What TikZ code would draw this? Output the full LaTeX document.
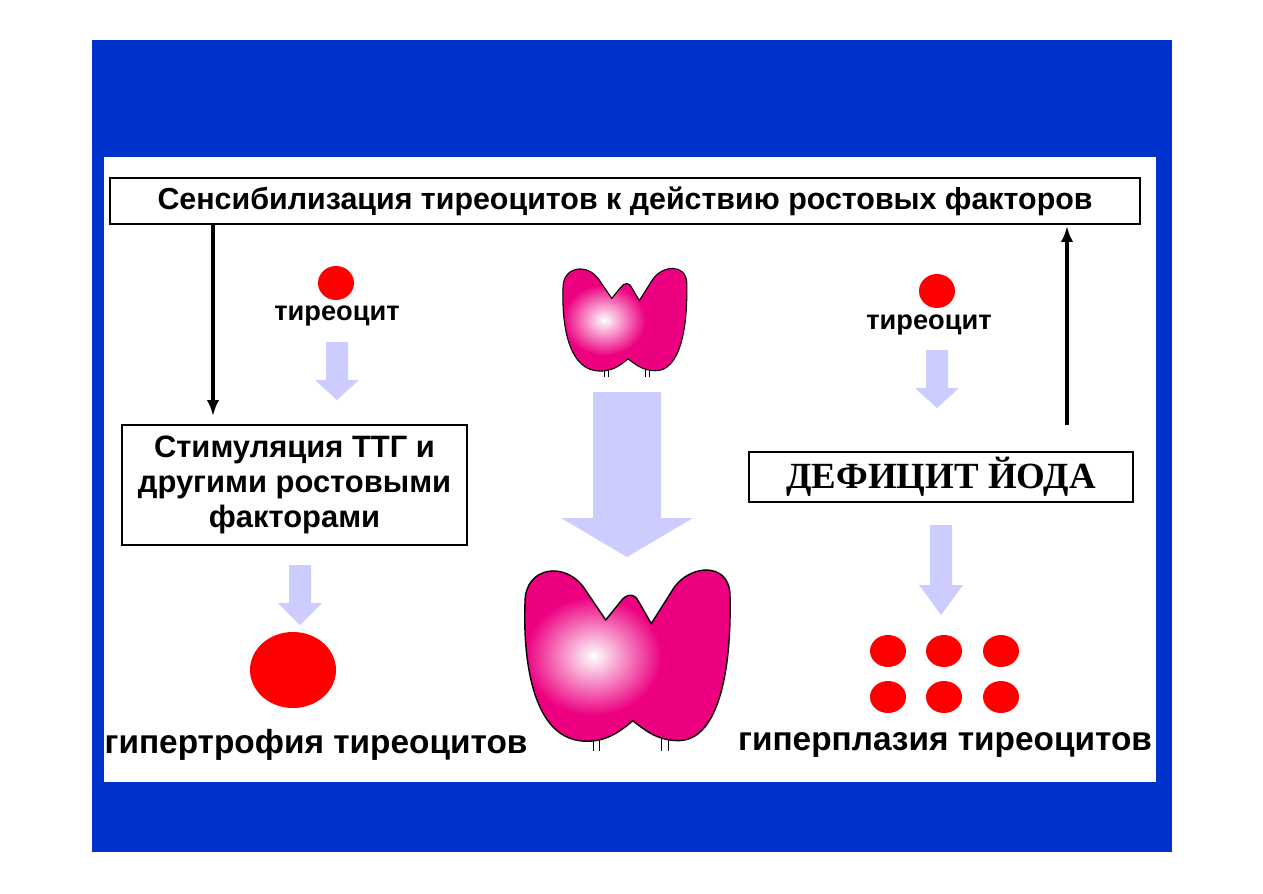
\documentclass[tikz,border=0pt]{standalone}
\usepackage{fontspec}
\setmainfont{Liberation Sans}
\newfontfamily\serifbf{Liberation Serif}
\usepackage{tikz}
\usetikzlibrary{positioning,arrows.meta}
\definecolor{slideblue}{RGB}{0,51,204}
\definecolor{lilac}{RGB}{204,204,255}
\definecolor{gland}{RGB}{236,0,128}
\definecolor{cellred}{RGB}{255,0,0}

% fat light arrow: x, top y, tip y, half shaft, half head, head length
\newcommand{\fatarrow}[6]{%
  \fill[lilac] (#1-#4,#2) -- (#1+#4,#2) -- (#1+#4,#3-#6) -- (#1+#5,#3-#6)
    -- (#1,#3) -- (#1-#5,#3-#6) -- (#1-#4,#3-#6) -- cycle;}

% outline of one gland, unit square, y down
\newcommand{\glandpath}{(0.39,0.3) -- (0.46,0.2)
  .. controls (0.49,0.15) and (0.53,0.15) .. (0.55,0.2) -- (0.61,0.32)
  -- (0.72,0.12) .. controls (0.8,-0.01) and (0.98,-0.02) .. (0.99,0.15)
  .. controls (1.0,0.6) and (0.93,0.97) .. (0.74,0.97)
  .. controls (0.63,0.97) and (0.57,0.9) .. (0.52,0.86)
  .. controls (0.46,0.92) and (0.38,0.99) .. (0.26,0.97)
  .. controls (0.03,0.93) and (-0.01,0.5) .. (0.0,0.2)
  .. controls (0.0,0.0) and (0.2,-0.03) .. (0.29,0.13) -- cycle}

\tikzset{
  box/.style={draw=black, line width=0.8pt, fill=white, inner sep=0pt, align=center},
  lbl/.style={font=\bfseries\fontsize{15.5}{18}\selectfont},
  big/.style={font=\bfseries\fontsize{19}{22}\selectfont},
  cell/.style={fill=cellred, draw=none},
  link/.style={-{Latex[length=9pt,width=7pt]}, line width=1.8pt, black},
  pics/thyroid/.style={code={
    \fill[gland] \glandpath;
    \begin{scope}
      \clip \glandpath;
      \shade[inner color=white, outer color=gland] (0.33,0.5) circle (0.33);
    \end{scope}
    \draw[pic actions] \glandpath;
    \draw[black, line width=0.3pt] (0.33,0.96) -- (0.33,1.03) (0.36,0.96) -- (0.36,1.03)
      (0.66,0.96) -- (0.66,1.03) (0.69,0.96) -- (0.69,1.03);
  }}
}

\begin{document}
\begin{tikzpicture}[x=0.02cm, y=-0.02cm]
\fill[white] (0,0) rectangle (1263,893);
\fill[slideblue] (92,40) rectangle (1172,852);
\fill[white] (104,157) rectangle (1156,782);

% boxes
\node[box, font=\bfseries\fontsize{17.3}{20}\selectfont, minimum width=1030*0.02cm, minimum height=46*0.02cm]
  (sens) at (625,201) {Сенсибилизация тиреоцитов к действию ростовых факторов};
\node[box, font=\bfseries\fontsize{17.6}{20}\selectfont, minimum width=345*0.02cm, minimum height=120*0.02cm]
  (stim) at (294.5,485) {Стимуляция ТТГ и\\другими ростовыми\\факторами};
\node[box, minimum width=384*0.02cm, minimum height=50*0.02cm,
  font=\serifbf\bfseries\fontsize{21}{24}\selectfont]
  (iod) at (941,477) {ДЕФИЦИТ ЙОДА};

% black links
\coordinate (sensL) at (213,224);
\coordinate (stimT) at (213,416);
\coordinate (iodT) at (1067,425);
\coordinate (sensR) at (1067,226);
\draw[link] (sensL) -- (stimT);
\draw[link] (iodT) -- (sensR);

% left column
\fill[cell] (336,283) ellipse (18 and 17);
\node[lbl] (cellL) at (337,316) {тиреоцит};
\fatarrow{337}{342}{400}{11}{22}{20}
\fatarrow{300}{565}{625}{11}{22}{22}
\fill[cell] (293,670) ellipse (43 and 38);
\node[big] (hyper) at (316,745) {гипертрофия тиреоцитов};

% middle column
\pic[draw=black, line width=0.6pt, xscale=125, yscale=108] (small) at (563,266) {thyroid};
\fatarrow{627}{392}{557}{34}{66}{39}
\pic[draw=black, line width=0.8pt, xscale=207, yscale=180] (large) at (525,566) {thyroid};

% right column
\fill[cell] (937,291) ellipse (18 and 17);
\node[lbl] (cellR) at (929,325) {тиреоцит};
\fatarrow{937}{350}{408}{11}{22}{20}
\fatarrow{941}{525}{615}{11}{22}{30}
\foreach \cx in {888,944,1001}
  \foreach \cy in {651,697}
    \fill[cell] (\cx,\cy) ellipse (18 and 16);
\node[big] (plasia) at (945,745) {гиперплазия тиреоцитов};
\end{tikzpicture}
\end{document}
